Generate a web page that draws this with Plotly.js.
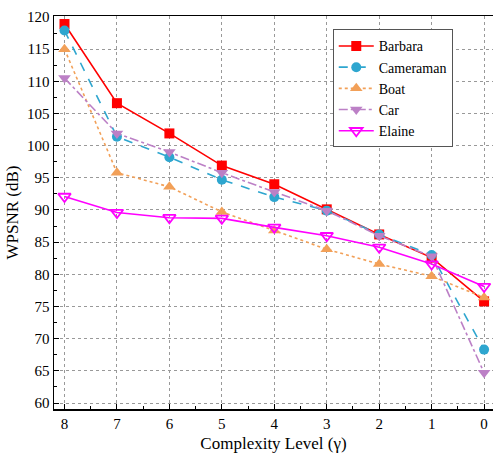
<!DOCTYPE html>
<html><head><meta charset="utf-8">
<script src="https://cdn.plot.ly/plotly-3.0.1.min.js"></script>
<style>
html,body{margin:0;padding:0;background:#fff}
#c{width:493px;height:455px}
#c text{font-family:'Liberation Serif' !important}
</style>
</head><body><div id="c"></div>
<script>
const levels = [8,7,6,5,4,3,2,1,0];
const barbara   = [118.9,106.6,101.9,96.9,94.0,90.1,86.2,82.6,75.8];
const cameraman = [117.9,101.4,98.2,94.7,92.0,89.9,86.2,83.0,68.3];
const boat      = [115.0,95.8,93.6,89.7,86.8,83.9,81.6,79.7,76.4];
const car       = [110.5,101.9,99.0,95.8,92.8,89.9,86.0,82.8,64.7];
const elaine    = [92.1,89.6,88.8,88.7,87.3,86.0,84.2,81.6,78.1];

function tr(name, y, color, dash, symbol, size) {
  return {
    x: levels, y: y, name: name, type: 'scatter', mode: 'lines+markers',
    line: {color: color, width: 1.6, dash: dash},
    marker: {symbol: symbol, size: size, color: color}
  };
}
const data = [
  tr('Barbara', barbara, '#ff0000', 'solid', 'square', 10),
  tr('Cameraman', cameraman, '#2ea6cf', 'dash', 'circle', 10),
  tr('Boat', boat, '#f2a058', 'dot', 'triangle-up', 11),
  tr('Car', car, '#bc80c6', 'dashdot', 'triangle-down', 11),
  {x: levels, y: elaine, name: 'Elaine', type: 'scatter', mode: 'lines+markers',
   line: {color: '#ff00ff', width: 1.6},
   marker: {symbol: 'triangle-down-open', size: 11, color: '#ff00ff', line: {width: 1.8, color: '#ff00ff'}}}
];
const fam = 'Liberation Serif';
const layout = {
  width: 493, height: 455,
  margin: {l: 54, r: 0, t: 16, b: 46},
  paper_bgcolor: '#fff', plot_bgcolor: '#fff',
  font: {family: fam, size: 15, color: '#000'},
  showlegend: true,
  legend: {x: 0.635, y: 0.966, xanchor: 'left', yanchor: 'top',
    bgcolor: '#fff', bordercolor: '#555', borderwidth: 1,
    font: {family: fam, size: 14, color: '#000'}, itemwidth: 35, tracegroupgap: 0},
  xaxis: {
    range: [8.2, -0.17], tickvals: levels, ticktext: levels.map(String),
    showline: true, linecolor: '#000', linewidth: 1.5, mirror: true,
    ticks: 'inside', ticklen: 5, tickcolor: '#000',
    minor: {dtick: 0.5, ticks: 'inside', ticklen: 3, tickcolor: '#000', showgrid: false},
    showgrid: true, gridcolor: '#999', griddash: '3px,3px', gridwidth: 1,
    zeroline: false, tickfont: {family: fam, size: 15, color: '#000'},
    title: {text: 'Complexity Level (γ)', font: {family: fam, size: 17, color: '#000'}, standoff: 6}
  },
  yaxis: {
    range: [59.07, 120.15], dtick: 5, tick0: 60,
    showline: true, linecolor: '#000', linewidth: 1.5, mirror: false,
    ticks: 'inside', ticklen: 5, tickcolor: '#000',
    minor: {dtick: 2.5, ticks: 'inside', ticklen: 3, tickcolor: '#000', showgrid: false},
    showgrid: true, gridcolor: '#999', griddash: '3px,3px', gridwidth: 1,
    zeroline: false, tickfont: {family: fam, size: 15, color: '#000'},
    title: {text: 'WPSNR (dB)', font: {family: fam, size: 17, color: '#000'}, standoff: 4}
  }
};
Plotly.newPlot('c', data, layout, {displayModeBar: false, staticPlot: true});
</script></body></html>
